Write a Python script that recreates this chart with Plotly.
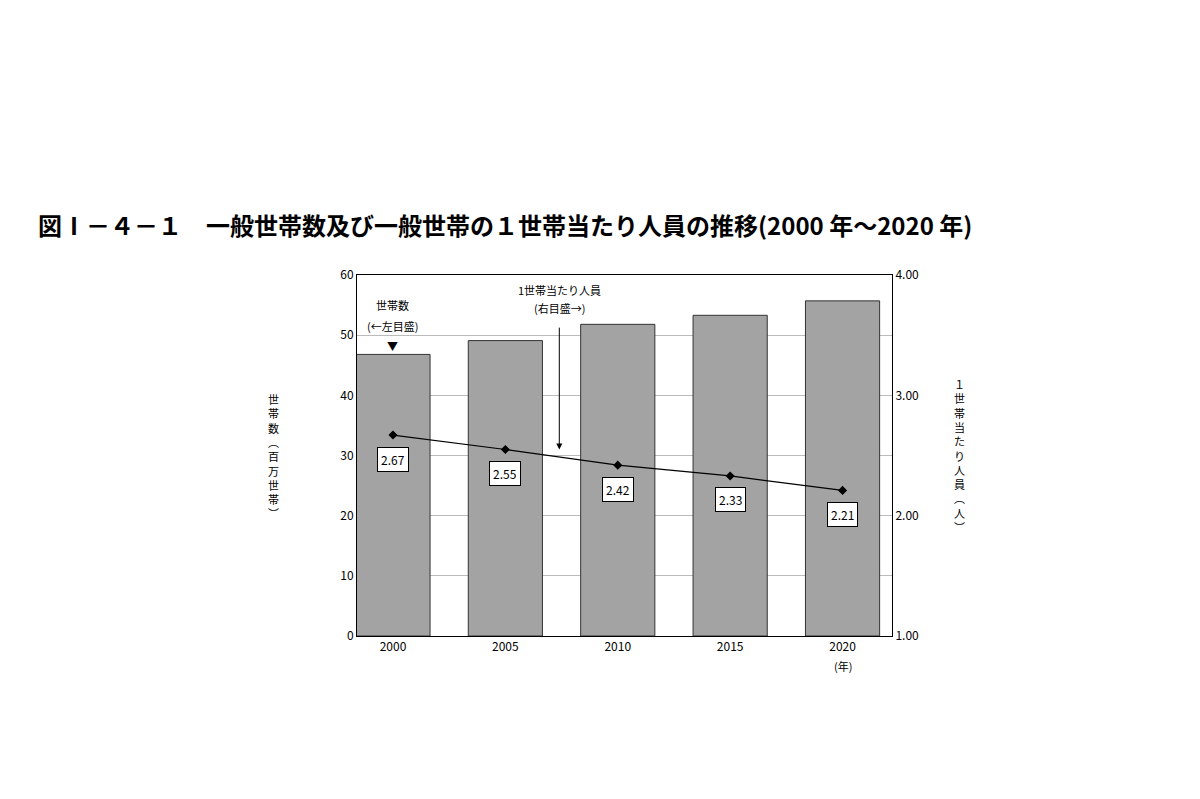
import plotly.graph_objects as go

years = ["2000", "2005", "2010", "2015", "2020"]
households = [46.8, 49.1, 51.8, 53.3, 55.7]
persons = [2.67, 2.55, 2.42, 2.33, 2.21]
pos = list(range(len(years)))

font = "Noto Sans CJK JP"
fig = go.Figure()
fig.add_trace(go.Bar(x=pos, y=households, width=0.66,
                     marker=dict(color="#a3a3a3", line=dict(color="#333", width=1)),
                     showlegend=False))
fig.add_trace(go.Scatter(x=pos, y=persons, yaxis="y2", mode="lines+markers",
                         line=dict(color="black", width=1.2),
                         marker=dict(symbol="diamond", size=7, color="black"),
                         showlegend=False))

for p, v in zip(pos, persons):
    fig.add_annotation(x=p, y=v, yref="y2", text=f"{v:.2f}", showarrow=False,
                       yshift=-24, bgcolor="white", bordercolor="black", borderwidth=1,
                       borderpad=3, font=dict(size=12, color="black"))

fig.add_annotation(x=0, y=55, text="世帯数", showarrow=False, font=dict(size=11))
fig.add_annotation(x=0, y=51.5, text="(←左目盛)", showarrow=False, font=dict(size=11))
fig.add_annotation(x=0, y=48.2, text="▼", showarrow=False, font=dict(size=11))
fig.add_annotation(x=1.48, y=57.5, text="1世帯当たり人員", showarrow=False, font=dict(size=11))
fig.add_annotation(x=1.48, y=54.5, text="(右目盛→)", showarrow=False, font=dict(size=11))
fig.add_annotation(x=1.48, y=31, ax=1.48, ay=51.5, axref="x", ayref="y", xref="x", yref="y",
                   text="", showarrow=True, arrowhead=2, arrowwidth=1, arrowsize=1.2,
                   arrowcolor="black")
fig.add_annotation(x=4, y=-0.11, yref="paper", text="(年)", showarrow=False, font=dict(size=11))

fig.update_layout(
    width=1200, height=799, plot_bgcolor="white", paper_bgcolor="white",
    margin=dict(l=349, r=316, t=267, b=171),
    font=dict(family=font, color="black", size=12),
    title=dict(text="<b>図Ⅰ－４－１　一般世帯数及び一般世帯の１世帯当たり人員の推移(2000 年～2020 年)</b>",
               x=0.025, xanchor="left", y=0.727, yanchor="middle", font=dict(size=24)),
    xaxis=dict(range=[-0.32, 4.44], tickvals=pos, ticktext=years, showline=True,
               linecolor="black", mirror=True, ticks="", showgrid=False),
    yaxis=dict(range=[0, 60], dtick=10, showgrid=True, gridcolor="#bbbbbb", showline=True,
               linecolor="black", ticks="", zeroline=False),
    yaxis2=dict(range=[1, 4], dtick=1, tickformat=".2f", overlaying="y", side="right",
                showgrid=False, showline=True, linecolor="black", ticks="", zeroline=False),
)
fig.add_annotation(x=-0.17, y=0.5, xref="paper", yref="paper", showarrow=False,
                   text="世<br>帯<br>数<br>︵<br>百<br>万<br>世<br>帯<br>︶", font=dict(size=11))
fig.add_annotation(x=1.14, y=0.5, xref="paper", yref="paper", showarrow=False,
                   text="１<br>世<br>帯<br>当<br>た<br>り<br>人<br>員<br>︵<br>人<br>︶", font=dict(size=11))
fig.write_html("out.html")
